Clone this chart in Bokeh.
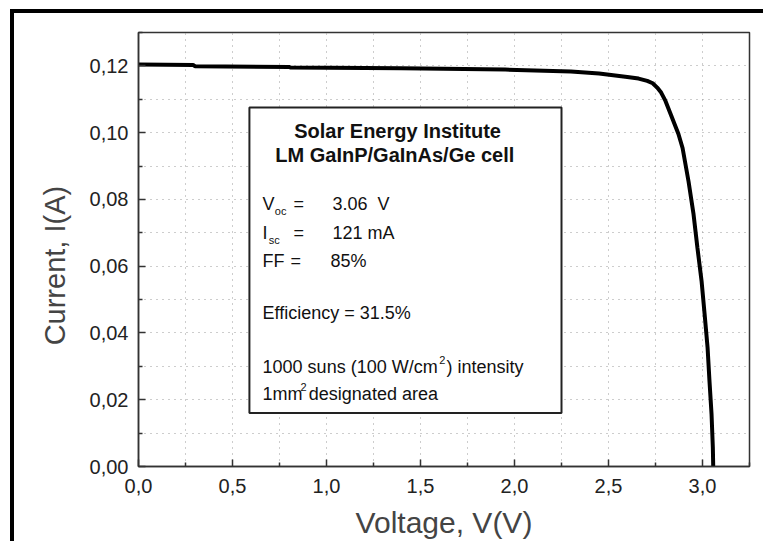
from bokeh.plotting import figure
from bokeh.models import (FixedTicker, CustomJSTickFormatter, BoxAnnotation, Label,
                          Range1d)
from bokeh.embed import file_html
from bokeh.resources import INLINE

# I-V curve of the cell under concentration
voltage = [0.00, 0.29, 0.30, 0.80, 0.81, 1.40, 1.95, 2.30, 2.45, 2.60, 2.66,
           2.706, 2.735, 2.759, 2.78, 2.803, 2.835, 2.872, 2.894, 2.926,
           2.952, 2.973, 2.995, 3.011, 3.027, 3.037, 3.048, 3.055, 3.057]
current = [0.1204, 0.1203, 0.1199, 0.1197, 0.1195, 0.1193, 0.1189, 0.1183,
           0.1177, 0.1167, 0.1162, 0.1155, 0.1148, 0.1135, 0.1120, 0.1095,
           0.1049, 0.0996, 0.0954, 0.0853, 0.0757, 0.0655, 0.0556, 0.0458,
           0.0356, 0.0257, 0.0158, 0.0057, 0.0000]

x_major = [0.0, 0.5, 1.0, 1.5, 2.0, 2.5, 3.0]
x_minor = [0.25, 0.75, 1.25, 1.75, 2.25, 2.75, 3.25]
y_major = [0.00, 0.02, 0.04, 0.06, 0.08, 0.10, 0.12]
y_minor = [0.01, 0.03, 0.05, 0.07, 0.09, 0.11, 0.13]

FONT = "Liberation Sans"
NBSP = "\u00a0"

p = figure(width=753, height=532, output_backend="svg", toolbar_location=None,
           x_range=Range1d(0, 3.25), y_range=Range1d(0, 0.13),
           min_border_left=124, min_border_right=18, min_border_top=19,
           min_border_bottom=79,
           styles={"margin-left": "10px", "margin-top": "9px",
                   "border-left": "4px solid black",
                   "border-top": "4px solid black"})

p.background_fill_color = "white"
p.border_fill_color = "white"
p.outline_line_color = "#333333"
p.outline_line_width = 1.5

p.xaxis.ticker = FixedTicker(ticks=x_major, minor_ticks=x_minor)
p.yaxis.ticker = FixedTicker(ticks=y_major, minor_ticks=y_minor)
p.xaxis.formatter = CustomJSTickFormatter(code="return tick.toFixed(1).replace('.', ',');")
p.yaxis.formatter = CustomJSTickFormatter(code="return tick.toFixed(2).replace('.', ',');")

for ax in (p.xaxis, p.yaxis):
    ax.axis_line_color = "#333333"
    ax.axis_line_width = 1.5
    ax.major_tick_in = 7
    ax.major_tick_out = 0
    ax.minor_tick_in = 4
    ax.minor_tick_out = 0
    ax.major_tick_line_color = "#333333"
    ax.major_tick_line_width = 1.5
    ax.minor_tick_line_color = "#333333"
    ax.minor_tick_line_width = 1.5
    ax.major_label_text_font = FONT
    ax.major_label_text_font_size = "20px"
    ax.major_label_text_color = "#222222"
    ax.axis_label_text_font = FONT
    ax.axis_label_text_font_style = "normal"
    ax.axis_label_text_color = "#444444"

p.xaxis.axis_label = "Voltage, V(V)"
p.xaxis.axis_label_text_font_size = "30px"
# padded at its end so the title sits a little below the frame's middle
p.yaxis.axis_label = "Current, I(A)" + NBSP * 4
p.yaxis.axis_label_text_font_size = "29px"
p.xaxis.major_label_standoff = 12
p.yaxis.major_label_standoff = 10
p.xaxis.axis_label_standoff = 10
p.yaxis.axis_label_standoff = 16

for g in (p.xgrid, p.ygrid):
    g.grid_line_color = "#9a9a9a"
    g.grid_line_dash = "1 5"
    g.grid_line_width = 1
    g.minor_grid_line_color = "#9a9a9a"
    g.minor_grid_line_dash = "1 5"
    g.minor_grid_line_width = 1

# information panel
p.add_layout(BoxAnnotation(left=0.59, right=2.25, bottom=0.016, top=0.1075,
                           fill_color="white", fill_alpha=1.0,
                           line_color="#222222", line_alpha=1.0, line_width=2,
                           level="glyph"))

p.line(voltage, current, line_color="black", line_width=4)


def note(x, y, text, size="18px", style="normal", align="left"):
    p.add_layout(Label(x=x, y=y, text=text, text_font=FONT,
                       text_font_size=size, text_font_style=style,
                       text_color="#111111", text_align=align,
                       text_baseline="middle"))


note(1.378, 0.1005, "Solar Energy Institute", "20px", "bold", "center")
note(1.378, 0.0934, "LM  GaInP/GaInAs/Ge cell", "20px", "bold", "center")

note(0.660, 0.0787, "V")
note(0.725, 0.0766, "oc", "11px")
note(0.824, 0.0787, "=")
note(1.032, 0.0787, "3.06")
note(1.271, 0.0787, "V")

note(0.660, 0.0700, "I")
note(0.693, 0.0679, "sc", "11px")
note(0.824, 0.0700, "=")
note(1.032, 0.0700, "121 mA")

note(0.660, 0.0616, "FF")
note(0.808, 0.0616, "=")
note(1.021, 0.0616, "85%")

note(0.660, 0.0461, "Efficiency = 31.5%")

note(0.660, 0.0299, "1000 suns (100 W/cm")
note(1.600, 0.0320, "2", "11px")
note(1.638, 0.0299, ") intensity")

note(0.660, 0.0218, "1mm")
note(0.862, 0.0239, "2", "11px")
note(0.906, 0.0218, "designated area")

open("out.html", "w").write(file_html(p, INLINE))
